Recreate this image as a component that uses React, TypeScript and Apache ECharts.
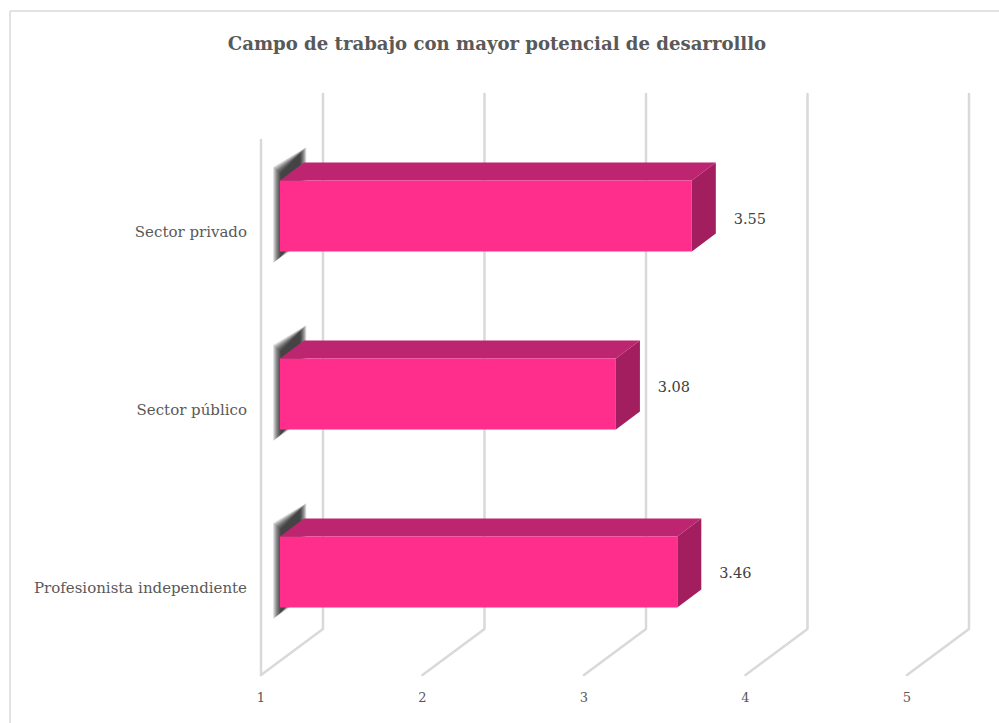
import React, { useEffect, useRef } from "react";
import * as echarts from "echarts";

const titleText = "Campo de trabajo con mayor potencial de desarrolllo";
const categories = ["Sector privado", "Sector público", "Profesionista independiente"];
const values = [3.55, 3.08, 3.46];
const valueTicks = [1, 2, 3, 4, 5];

const FONT = "'DejaVu Serif', 'Liberation Serif', serif";
const WALL_DX = 62;
const WALL_DY = 46;
const WALL_H = 535;
const BAR_START_DX = 19;
const BAR_LIFT = 14;
const BAR_DX = 24;
const BAR_DY = 18;
const LABEL_NUDGE = [1, -9, -1];
const SHADOW_LAYERS = [8, 7.4, 6.8, 6.2, 5.6, 5, 4.4, 3.8, 3.2, 2.6, 2, 1.4, 0.8, 0.2];

const App: React.FC = () => {
  const ref = useRef<HTMLDivElement>(null);
  useEffect(() => {
    const chart = echarts.init(ref.current!, undefined, { renderer: "svg" });
    const wallItem = (params: any, api: any) => {
      const tick = api.value(0);
      const x = api.coord([tick, 0])[0];
      const cs = params.coordSys;
      const bottom = cs.y + cs.height;
      const style = { stroke: "#d9d9d9", lineWidth: 2.5, fill: "none", lineCap: "round", lineJoin: "round" };
      const children: any[] = [
        {
          type: "polyline",
          shape: {
            points: [
              [x, bottom],
              [x + WALL_DX, bottom - WALL_DY],
              [x + WALL_DX, bottom - WALL_DY - WALL_H],
            ],
          },
          style,
        },
      ];
      if (tick === valueTicks[0]) {
        children.push({
          type: "line",
          shape: { x1: x, y1: bottom, x2: x, y2: bottom - WALL_H },
          style: { stroke: "#d9d9d9", lineWidth: 2.5, lineCap: "round" },
        });
      }
      return { type: "group", children };
    };
    const barItem = (params: any, api: any) => {
      const v = api.value(0);
      const cat = api.value(1);
      const [xEnd, yc] = api.coord([v, cat]);
      const x0 = api.coord([valueTicks[0], cat])[0];
      const h = api.size([0, 1])[1] * 0.4;
      const l = x0 + BAR_START_DX;
      const r = xEnd + BAR_START_DX;
      const cy = yc - BAR_LIFT;
      const t = cy - h / 2;
      const b = cy + h / 2;
      const shadow = SHADOW_LAYERS.map((e) => ({
        type: "polygon",
        shape: {
          points: [
            [l + 1 - e, t - 7 - e * 0.8],
            [l + BAR_DX - 4 + e * 0.8, t - BAR_DY - 9 - e * 0.8],
            [l + BAR_DX - 4 + e * 0.8, b - BAR_DY + e * 0.8],
            [l + 1 - e, b + 5 + e * 0.8],
          ],
        },
        style: { fill: "rgba(0,0,0,0.085)" },
      }));
      return {
        type: "group",
        children: [
          ...shadow,
          {
            type: "polygon",
            shape: { points: [[l, t], [l + BAR_DX, t - BAR_DY], [r + BAR_DX, t - BAR_DY], [r, t]] },
            style: { fill: "#BE2570" },
          },
          {
            type: "polygon",
            shape: { points: [[r, t], [r + BAR_DX, t - BAR_DY], [r + BAR_DX, b - BAR_DY], [r, b]] },
            style: { fill: "#A31E5E" },
          },
          { type: "rect", shape: { x: l, y: t, width: r - l, height: h }, style: { fill: "#FF2E8C" } },
          {
            type: "text",
            x: r + 58,
            y: yc - BAR_LIFT + 2 + LABEL_NUDGE[params.dataIndex],
            style: {
              text: v.toFixed(2),
              font: `14.5px ${FONT}`,
              fill: "#404040",
              align: "center",
              verticalAlign: "middle",
            },
          },
        ],
      };
    };
    chart.setOption({
      animation: false,
      backgroundColor: "#ffffff",
      title: {
        text: titleText,
        left: 492,
        top: 29,
        textAlign: "center",
        textStyle: { fontFamily: FONT, fontSize: 18.1, fontWeight: "bold", color: "#595959" },
      },
      grid: { left: 261, top: 141, width: 646, height: 534, containLabel: false },
      xAxis: {
        type: "value",
        min: 1,
        max: 5,
        interval: 1,
        axisLine: { show: false },
        axisTick: { show: false },
        splitLine: { show: false },
        axisLabel: { margin: 16, fontFamily: FONT, fontSize: 13, color: "#595959" },
      },
      yAxis: {
        type: "category",
        inverse: true,
        data: categories,
        axisLine: { show: false },
        axisTick: { show: false },
        splitLine: { show: false },
        axisLabel: {
          margin: 14,
          fontFamily: FONT,
          fontSize: 15,
          color: "#595959",
          verticalAlign: "top",
          lineHeight: 3,
        },
      },
      graphic: [
        { type: "line", shape: { x1: 10, y1: 11, x2: 999, y2: 11 }, style: { stroke: "#d9d9d9", lineWidth: 1.5 } },
        { type: "line", shape: { x1: 10, y1: 11, x2: 10, y2: 723 }, style: { stroke: "#d9d9d9", lineWidth: 1.5 } },
      ],
      series: [
        {
          type: "custom",
          z: 1,
          renderItem: wallItem,
          clip: false,
          silent: true,
          data: valueTicks.map((t) => [t, 0]),
        },
        {
          type: "custom",
          z: 2,
          renderItem: barItem,
          clip: false,
          data: values.map((v, i) => [v, i]),
          encode: { x: 0, y: 1 },
        },
      ],
    });
    return () => chart.dispose();
  }, []);
  return <div ref={ref} style={{ position: "absolute", left: 0, top: 0, width: 999, height: 723 }} />;
};

export default App;
